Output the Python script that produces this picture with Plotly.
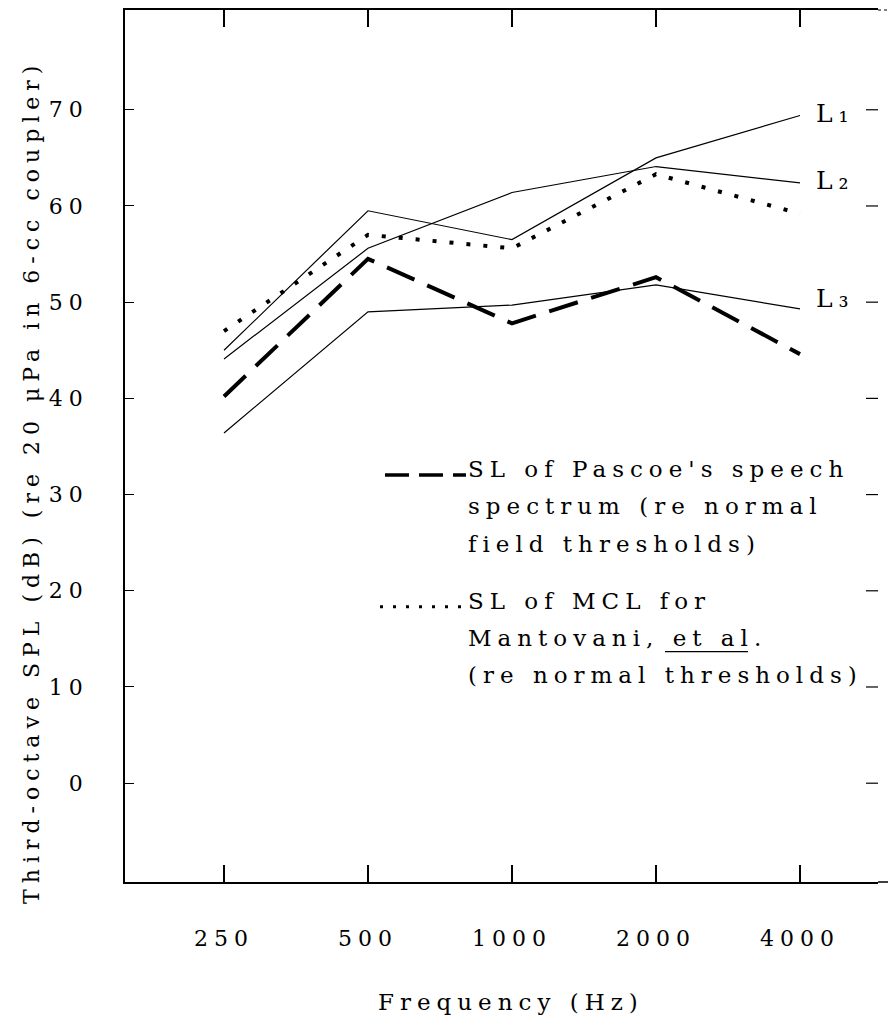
import math
import plotly.graph_objects as go

# Third-octave band centre frequencies (Hz)
freqs = [250, 500, 1000, 2000, 4000]
freq_labels = ["250", "500", "1000", "2000", "4000"]

# Curves in dB SPL re 20 uPa (6-cc coupler)
curve_l1 = [45.0, 59.5, 56.5, 65.0, 69.4]
curve_l2 = [44.1, 55.6, 61.4, 64.1, 62.4]
curve_l3 = [36.4, 49.0, 49.7, 51.8, 49.3]
pascoe_sl = [40.2, 54.5, 47.8, 52.6, 44.6]
mcl_sl = [47.0, 57.0, 55.6, 63.3, 59.2]

curve_names = ["L\u2081", "L\u2082", "L\u2083"]
y_ticks = [0, 10, 20, 30, 40, 50, 60, 70]
y_range = [-10.27, 80.37]

FONT = "DejaVu Serif"

W, H = 888, 1034
ML, MR, MT, MB = 125, 10, 8, 152
PW, PH = W - ML - MR, H - MT - MB


def px(x):
    return (x - ML) / PW


def py(y):
    return (H - MB - y) / PH


fig = go.Figure()

thin = dict(color="black", width=1.2)
fig.add_trace(go.Scatter(x=freqs, y=curve_l1, mode="lines", line=thin))
fig.add_trace(go.Scatter(x=freqs, y=curve_l2, mode="lines", line=thin))
fig.add_trace(go.Scatter(x=freqs, y=curve_l3, mode="lines", line=thin))
fig.add_trace(go.Scatter(x=freqs, y=pascoe_sl, mode="lines",
                         line=dict(color="black", width=4, dash="30px,14px")))
fig.add_trace(go.Scatter(x=freqs, y=mcl_sl, mode="lines",
                         line=dict(color="black", width=4, dash="4px,13px")))

text_font = dict(family=FONT, size=23, color="black")
tick_font = dict(family=FONT, size=22, color="black")
annotations = []

# curve labels at the right-hand ends (log axis -> x given as log10)
for name, vals, dy in zip(curve_names, (curve_l1, curve_l2, curve_l3), (2, 2, 10)):
    annotations.append(dict(
        x=math.log10(freqs[-1]), y=vals[-1], xref="x", yref="y", text=name,
        showarrow=False, xanchor="left", yanchor="middle", align="left",
        xshift=14, yshift=dy, font=dict(family=FONT, size=25, color="black")))

legend_lines = [
    ("SL of Pascoe's speech", 466, 468),
    ("spectrum (re normal", 466, 505),
    ("field thresholds)", 466, 543),
    ("SL of MCL for", 466, 600),
    ("Mantovani, et al.", 466, 637),
    ("(re normal thresholds)", 466, 675),
]
for txt, x, y in legend_lines:
    annotations.append(dict(
        x=px(x), y=py(y), xref="paper", yref="paper", text=txt,
        showarrow=False, xanchor="left", yanchor="middle", align="left",
        font=text_font))

# axis titles
annotations.append(dict(
    x=px(376), y=py(1002), xref="paper", yref="paper", text="Frequency (Hz)",
    showarrow=False, xanchor="left", yanchor="middle", align="left",
    font=text_font))
annotations.append(dict(
    x=px(32), y=py(906), xref="paper", yref="paper",
    text="Third-octave SPL (dB) (re 20 \u03bcPa in 6-cc coupler)",
    textangle=-90, showarrow=False, xanchor="center", yanchor="bottom",
    align="left", font=dict(family=FONT, size=22, color="black")))

shapes = [
    # legend line samples
    dict(type="line", xref="paper", yref="paper", x0=px(385), x1=px(466),
         y0=py(474), y1=py(474), line=dict(color="black", width=3.5, dash="24px,10px")),
    dict(type="line", xref="paper", yref="paper", x0=px(380), x1=px(464),
         y0=py(606), y1=py(606), line=dict(color="black", width=3, dash="3px,10px")),
    # underline beneath "et al"
    dict(type="line", xref="paper", yref="paper", x0=px(665), x1=px(748),
         y0=py(651), y1=py(651), line=dict(color="black", width=1.3)),
    # frame continues a little past the right-hand tick column
    dict(type="line", xref="paper", yref="paper", x0=1, x1=1 + MR / PW,
         y0=0, y1=0, line=dict(color="black", width=1.5)),
    dict(type="line", xref="paper", yref="paper", x0=1, x1=1 + MR / PW,
         y0=1, y1=1, line=dict(color="black", width=1, dash="3px,3px")),
]
# right-hand tick marks (no axis line on that side)
for v in y_ticks:
    shapes.append(dict(type="line", xref="paper", yref="y", x0=1 - 12 / PW, x1=1,
                       y0=v, y1=v, line=dict(color="black", width=1.2)))

fig.update_layout(
    width=W, height=H,
    margin=dict(l=ML, r=MR, t=MT, b=MB, pad=0),
    paper_bgcolor="white", plot_bgcolor="white",
    showlegend=False,
    annotations=annotations,
    shapes=shapes,
    xaxis=dict(
        type="log", range=[2.19098, 3.76513],
        tickvals=freqs, ticktext=freq_labels,
        ticks="inside", ticklen=17, tickwidth=1.5, tickcolor="black",
        showline=True, linewidth=1.5, linecolor="black", mirror="ticks",
        showgrid=False, zeroline=False, tickfont=tick_font,
        ticklabelstandoff=36,
    ),
    yaxis=dict(
        range=y_range, tickvals=y_ticks,
        ticks="inside", ticklen=9, tickwidth=1.2, tickcolor="black",
        showline=True, linewidth=1.5, linecolor="black",
        showgrid=False, zeroline=False, tickfont=tick_font,
        ticklabelstandoff=30,
    ),
)

# typewriter-style letter spacing for all drawn text
spacing_css = (
    "var s=document.createElement('style');"
    "s.textContent='.js-plotly-plot svg text{letter-spacing:6px}';"
    "document.head.appendChild(s);"
)

fig.write_html("out.html", post_script=spacing_css)
